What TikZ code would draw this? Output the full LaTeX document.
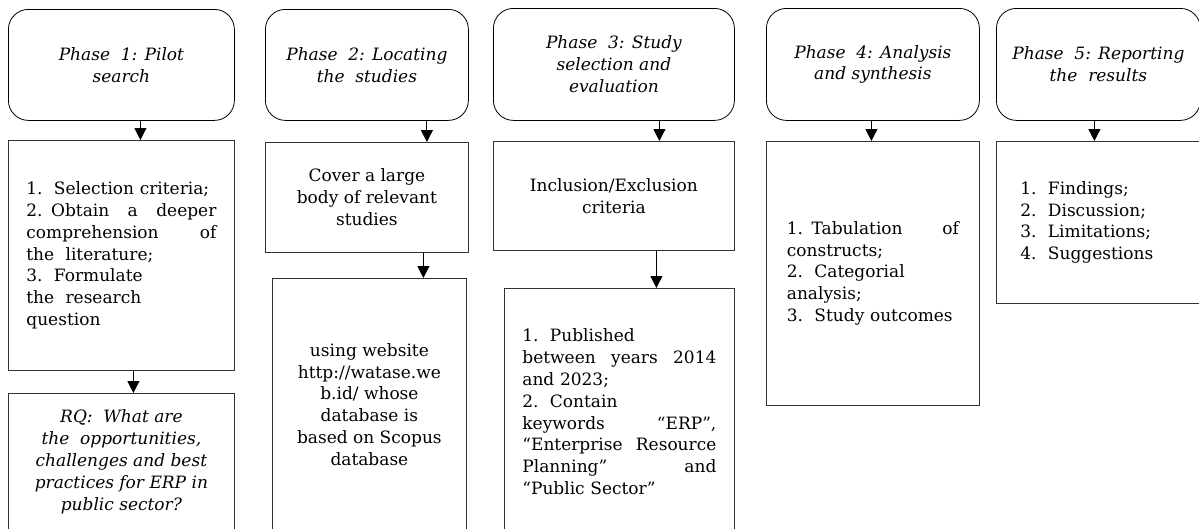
\documentclass[tikz,border=0pt]{standalone}
\usepackage{fontspec}
\setmainfont{DejaVu Serif}
\usetikzlibrary{arrows.meta}

\tikzset{
  phase/.style={draw, rounded corners=20pt, line width=0.8pt, align=center,
    anchor=north west, inner sep=0pt, font=\fontsize{17}{21.8}\selectfont\itshape},
  detail/.style={draw=black!80, line width=0.8pt, anchor=north west,
    inner sep=0pt, font=\fontsize{17}{21.8}\selectfont},
  down/.style={-{Triangle[width=12pt,length=12pt]}, line width=1pt}
}

\begin{document}
\begin{tikzpicture}[x=1pt, y=-1pt]
  % Page frame
  \useasboundingbox (0,0) rectangle (1199,528);
  \clip (0,0) rectangle (1199,528);

  % Phase boxes
  \node[phase, minimum width=226pt, minimum height=111pt] (p1) at (8,9) {Phase\ \ 1: Pilot\\search};
  \node[phase, minimum width=203pt, minimum height=111pt] (p2) at (265,9) {Phase\ \ 2: Locating\\the\ \ studies};
  \node[phase, minimum width=241pt, minimum height=112pt] (p3) at (493,8) {Phase\ \ 3: Study\\selection and\\evaluation};
  \node[phase, minimum width=213pt, minimum height=112pt] (p4) at (766,8) {Phase\ \ 4: Analysis\\and synthesis};
  \node[phase, minimum width=204pt, minimum height=112pt] (p5) at (996,8) {Phase\ \ 5: Reporting\\the\ \ results};

  % Phase 1
  \node[detail, minimum width=226pt, minimum height=230pt, text width=190pt, align=left] (b1) at (8,140)
    {1.\ \ Selection criteria;\\ 2. Obtain\hfill a\hfill deeper\\ comprehension\hfill of\\ the\ \ literature;\\
     3.\ \ Formulate\\ the\ \ research\\ question};
  \node[detail, minimum width=226pt, minimum height=137pt, align=center, font=\fontsize{17}{21.8}\selectfont\itshape] (rq) at (8,393)
    {RQ:\ \ What are\\ the\ \ opportunities,\\ challenges and best\\ practices for ERP in\\ public sector?};

  % Phase 2
  \node[detail, minimum width=203pt, minimum height=110pt, align=center] (b2) at (265,142)
    {Cover a large\\ body of relevant\\ studies};
  \node[detail, minimum width=194pt, minimum height=252pt, align=center] (c2) at (272,278)
    {using website\\ http://watase.we\\ b.id/ whose\\ database is\\ based on Scopus\\ database};

  % Phase 3
  \node[detail, minimum width=241pt, minimum height=109pt, align=center] (b3) at (493,141)
    {Inclusion/Exclusion\\ criteria};
  \node[detail, minimum width=230pt, minimum height=247pt, text width=194pt, align=left] (c3) at (504,288)
    {1.\ \ Published\\ between\hfill years\hfill 2014\\ and 2023;\\ 2.\ \ Contain\\ keywords\hfill “ERP”,\\
     “Enterprise\hfill Resource\\ Planning”\hfill and\\ “Public Sector”};

  % Phase 4 and 5
  \node[detail, minimum width=213pt, minimum height=264pt, text width=172pt, align=left] (b4) at (766,141)
    {1. Tabulation\hfill of\\ constructs;\\ 2.\ \ Categorial\\ analysis;\\ 3.\ \ Study outcomes};
  \node[detail, minimum width=210pt, minimum height=162pt, text width=162pt, align=left] (b5) at (996,141)
    {1.\ \ Findings;\\ 2.\ \ Discussion;\\ 3.\ \ Limitations;\\ 4.\ \ Suggestions};

  % Arrows
  \draw[down] ([xshift=19pt]p1.south) -- ([xshift=19pt]b1.north);
  \draw[down] ([xshift=12pt]b1.south) -- ([xshift=12pt]rq.north);
  \draw[down] ([xshift=60pt]p2.south) -- ([xshift=60pt]b2.north);
  \draw[down] ([xshift=56.5pt]b2.south) -- ([xshift=54pt]c2.north);
  \draw[down] ([xshift=45.5pt]p3.south) -- ([xshift=45.5pt]b3.north);
  \draw[down] ([xshift=42.5pt]b3.south) -- ([xshift=37pt]c3.north);
  \draw[down] ([xshift=-1.5pt]p4.south) -- ([xshift=-1.5pt]b4.north);
  \draw[down] ([xshift=-4pt]p5.south) -- ([xshift=-7pt]b5.north);
\end{tikzpicture}
\end{document}
